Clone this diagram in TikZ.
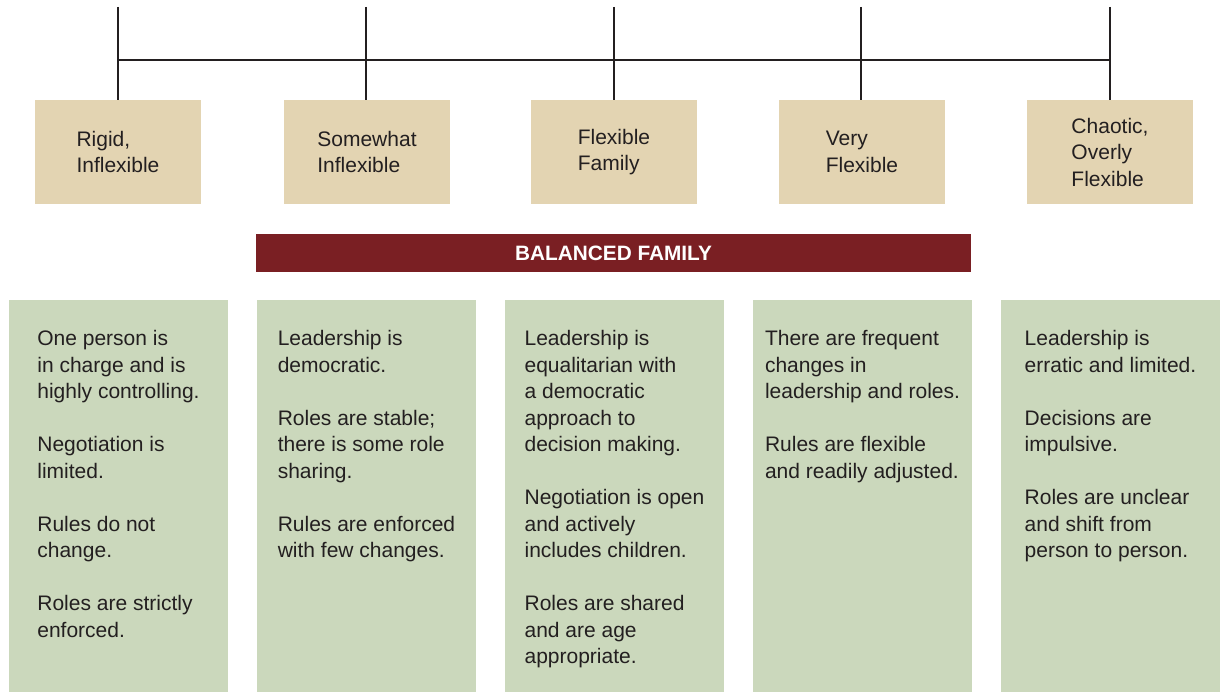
\documentclass[tikz,border=0pt]{standalone}
\usepackage{fontspec}
\setmainfont{Liberation Sans}
\definecolor{tanbox}{HTML}{E3D4B2}
\definecolor{greenbox}{HTML}{CBD8BC}
\definecolor{bannerred}{HTML}{7A1F23}
\definecolor{ink}{HTML}{231F20}
\begin{document}
\begin{tikzpicture}[x=1pt,y=-1pt,
  every node/.style={font=\fontsize{21}{26.5}\selectfont, text=ink},
  tanstyle/.style={rectangle, fill=tanbox, minimum width=166, minimum height=104, align=left, inner sep=0},
  greenstyle/.style={rectangle, fill=greenbox, minimum width=219, minimum height=392, inner sep=0},
  bodytext/.style={anchor=north, align=left, inner sep=0},
  connector/.style={draw=ink, line width=2.6pt},
  bannerstyle/.style={rectangle, fill=bannerred, minimum width=715, minimum height=38, inner sep=0, text=white, font=\fontsize{20.8}{24}\selectfont\bfseries}
]
\useasboundingbox (0,0) rectangle (1221,692);

% top boxes
\node[tanstyle] (t1) at (118,152) {Rigid,\\Inflexible};
\node[tanstyle] (t2) at (367,152) {Somewhat\\Inflexible};
\node[tanstyle] (t3) at (614,152) {Flexible\\Family};
\node[tanstyle] (t4) at (862,152) {Very\\Flexible};
\node[tanstyle] (t5) at (1110,152) {Chaotic,\\Overly\\Flexible};

% connector coordinates
\foreach \i/\x in {1/118,2/366,3/614,4/861,5/1110}{
  \coordinate (top\i) at (\x,7);
  \coordinate (bar\i) at (\x,60);
}
\foreach \i in {1,...,5}{
  \draw[connector] (top\i) -- (top\i |- t\i.north);
}
\draw[connector] (bar1) -- (bar5);

% banner
\node[bannerstyle] (banner) at (613.5,253.5) {BALANCED FAMILY};

% green boxes
\node[greenstyle] (g1) at (118.5,496) {};
\node[greenstyle] (g2) at (366.5,496) {};
\node[greenstyle] (g3) at (614.5,496) {};
\node[greenstyle] (g4) at (862.5,496) {};
\node[greenstyle] (g5) at (1110.5,496) {};

\node[bodytext] (x1) at (118.5,330.5) {One person is\\in charge and is\\highly controlling.\\[26.5pt]Negotiation is\\limited.\\[26.5pt]Rules do not\\change.\\[26.5pt]Roles are strictly\\enforced.};
\node[bodytext] (x2) at (366.5,330.5) {Leadership is\\democratic.\\[26.5pt]Roles are stable;\\there is some role\\sharing.\\[26.5pt]Rules are enforced\\with few changes.};
\node[bodytext] (x3) at (614.5,330.5) {Leadership is\\equalitarian with\\a democratic\\approach to\\decision making.\\[26.5pt]Negotiation is open\\and actively\\includes children.\\[26.5pt]Roles are shared\\and are age\\appropriate.};
\node[bodytext] (x4) at (862.5,330.5) {There are frequent\\changes in\\leadership and roles.\\[26.5pt]Rules are flexible\\and readily adjusted.};
\node[bodytext] (x5) at (1110.5,330.5) {Leadership is\\erratic and limited.\\[26.5pt]Decisions are\\impulsive.\\[26.5pt]Roles are unclear\\and shift from\\person to person.};
\end{tikzpicture}
\end{document}
